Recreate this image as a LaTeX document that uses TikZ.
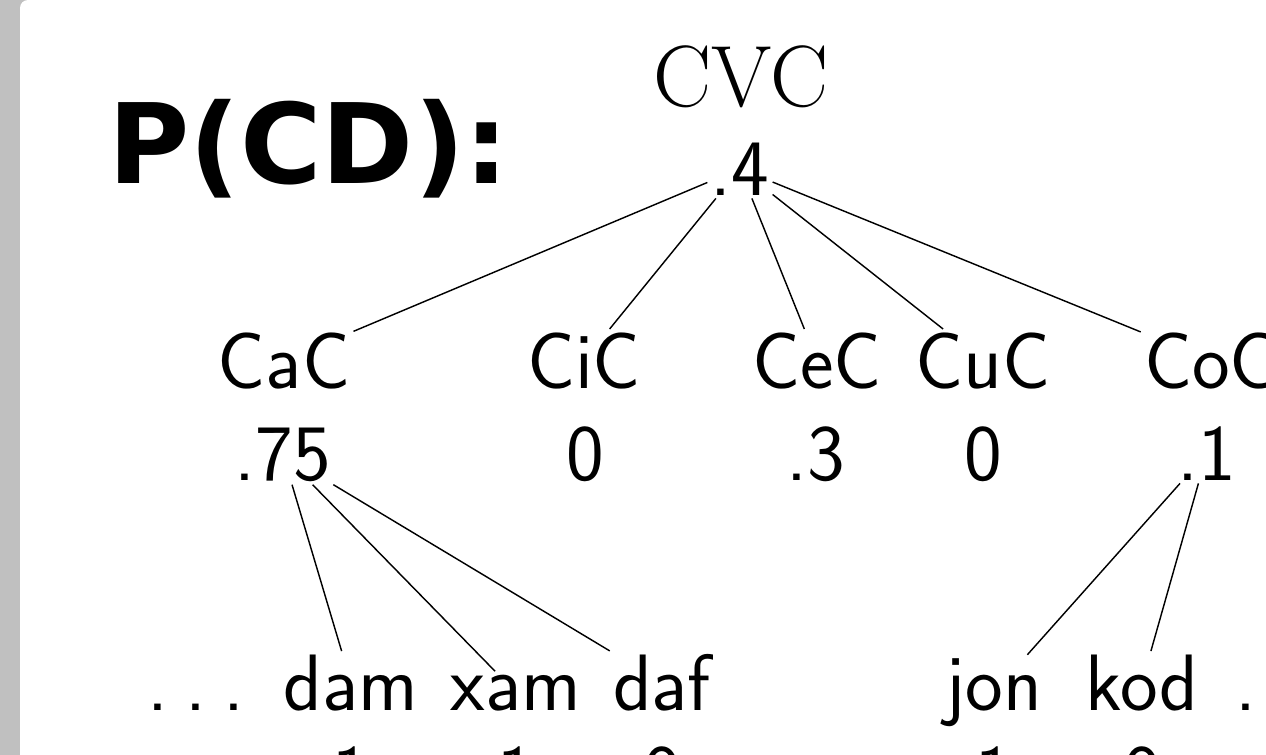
\documentclass[tikz,border=0pt]{standalone}
\usepackage{fontspec}
\newfontfamily\pcdfont{DejaVu Sans}
\definecolor{bggray}{RGB}{192,192,192}
\newcommand{\spdots}{.\kern0.21em.\kern0.21em.}
\tikzset{
  word/.style={font=\fontsize{40}{48}\selectfont\sffamily, inner sep=1.5pt, anchor=base},
  rword/.style={font=\fontsize{43.5}{52}\selectfont\rmfamily, inner sep=1.5pt, anchor=base},
  ptitle/.style={font=\fontsize{55.5}{66}\selectfont\pcdfont\bfseries, inner sep=0pt, anchor=base west},
  link/.style={draw=black, line width=0.72pt}
}
\begin{document}
\begin{tikzpicture}[x=0.5pt,y=-0.5pt]
\useasboundingbox (0,0) rectangle (1266,755);
\clip (0,0) rectangle (1266,755);
\fill[bggray] (0,0) rectangle (1266,755);
\fill[white, rounded corners=4pt] (20,0) rectangle (1400,900);

\node[ptitle] (pcd) at (108,183) {P(CD):};
\node[rword] (cvc) at (741,106) {CVC};
\node[word] (v0) at (740,195) {.4};

\node[word] (cac) at (284,388) {CaC};
\node[word] (cic) at (584,388) {CiC};
\node[word] (cec) at (817,388) {CeC};
\node[word] (cuc) at (983,388) {CuC};
\node[word] (coc) at (1211,388) {CoC};

\node[word] (v1) at (283,480) {.75};
\node[word] (v2) at (585,480) {0};
\node[word] (v3) at (816,480) {.3};
\node[word] (v4) at (983,480) {0};
\node[word] (v5) at (1207,480) {.1};

\node[word] (dl) at (196,710) {\spdots};
\node[word] (dam) at (351,710) {dam};
\node[word] (xam) at (516,710) {xam};
\node[word] (daf) at (662,710) {daf};
\node[word] (jon) at (994,710) {jon};
\node[word] (kod) at (1142,710) {kod};
\node[word] (dr) at (1284,710) {\spdots};

\node[word] (p1) at (351,800) {1};
\node[word] (p2) at (516,800) {1};
\node[word] (p3) at (662,800) {0};
\node[word] (p4) at (994,800) {1};
\node[word] (p5) at (1142,800) {0};

\foreach \c in {cac,cic,cec,cuc,coc} \draw[link] (v0) -- (\c);
\foreach \c in {dam,xam,daf} \draw[link] (v1) -- (\c);
\foreach \c in {jon,kod} \draw[link] (v5) -- (\c);
\end{tikzpicture}
\end{document}
